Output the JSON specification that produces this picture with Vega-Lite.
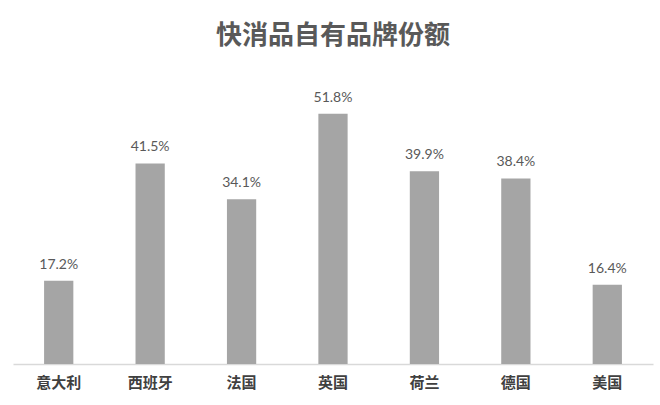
{
  "$schema": "https://vega.github.io/schema/vega-lite/v6.json",
  "autosize": "none",
  "width": 640,
  "height": 290,
  "padding": {"left": 13, "top": 74, "right": 7, "bottom": 41},
  "background": "white",
  "config": {"view": {"stroke": null}},
  "title": {
    "text": "快消品自有品牌份额",
    "font": "Noto Sans CJK SC",
    "fontSize": 26,
    "fontWeight": "bold",
    "color": "#595959",
    "anchor": "middle",
    "offset": 25
  },
  "data": {
    "values": [
      {"country": "意大利", "share": 0.172},
      {"country": "西班牙", "share": 0.415},
      {"country": "法国", "share": 0.341},
      {"country": "英国", "share": 0.518},
      {"country": "荷兰", "share": 0.399},
      {"country": "德国", "share": 0.384},
      {"country": "美国", "share": 0.164}
    ]
  },
  "encoding": {
    "x": {
      "field": "country",
      "type": "nominal",
      "sort": null,
      "scale": {"paddingInner": 0.68, "paddingOuter": 0.34},
      "axis": {
        "title": null,
        "labelAngle": 0,
        "labelFont": "Noto Sans CJK SC",
        "labelFontSize": 15,
        "labelFontWeight": "bold",
        "labelColor": "#404040",
        "labelPadding": 11,
        "ticks": false,
        "domainColor": "#d9d9d9",
        "domainWidth": 1.5
      }
    },
    "y": {
      "field": "share",
      "type": "quantitative",
      "scale": {"domain": [0, 0.6]},
      "axis": null
    }
  },
  "layer": [
    {"mark": {"type": "bar", "color": "#a5a5a5"}},
    {
      "mark": {
        "type": "text",
        "baseline": "bottom",
        "dy": -9,
        "font": "Lato",
        "fontSize": 14,
        "color": "#595959"
      },
      "encoding": {
        "text": {"field": "share", "type": "quantitative", "format": ".1%"}
      }
    }
  ]
}
